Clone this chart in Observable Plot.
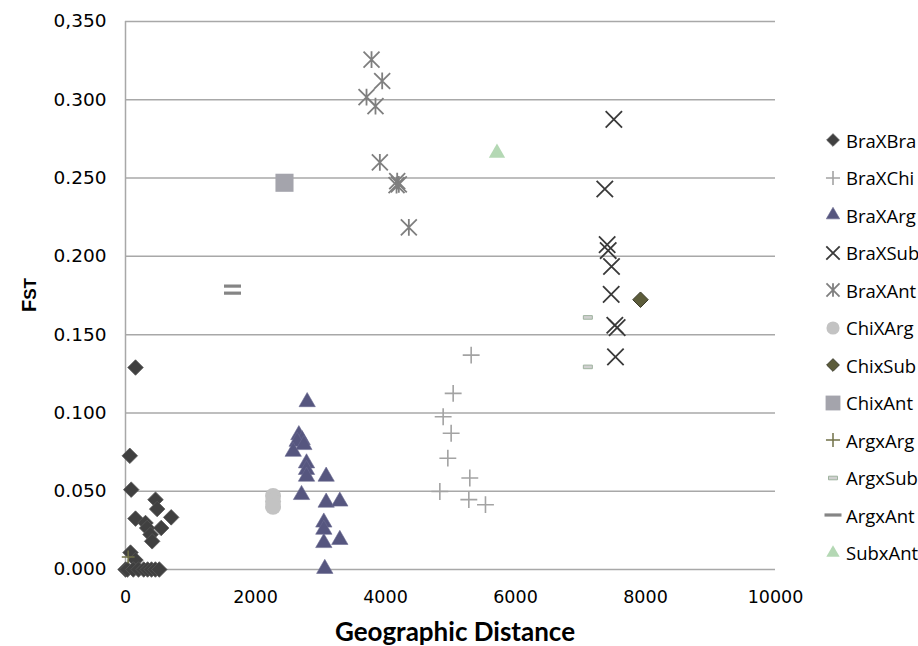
<!DOCTYPE html>
<html>
<head>
<meta charset="utf-8">
<script src="https://cdn.jsdelivr.net/npm/d3@7"></script>
<script src="https://cdn.jsdelivr.net/npm/@observablehq/plot@0.6"></script>
<style>
  html, body { margin: 0; padding: 0; background: #fff; }
  #wrap { position: relative; width: 918px; height: 646px; overflow: hidden; }
  #legend { position: absolute; left: 824px; top: 0; font-family: "Open Sans", sans-serif; font-size: 18.5px; color: #000; }
  .row { position: absolute; left: 0; height: 24px; display: flex; align-items: center; white-space: nowrap; }
  .row svg { width: 18px; height: 18px; margin-right: 4px; overflow: visible; }
</style>
</head>
<body>
<div id="wrap"></div>
<script>
// ---- data (x = geographic distance, y = FST) ----
const xTicks = [0, 2000, 4000, 6000, 8000, 10000];
const yTicks = [0, 0.05, 0.1, 0.15, 0.2, 0.25, 0.3, 0.35];
const yTickLabels = ["0.000", "0.050", "0.100", "0.150", "0.200", "0.250", "0.300", "0,350"];

const braXBra = [[154,0.129],[66,0.0726],[88,0.051],[462,0.0446],[487,0.0386],[703,0.0333],[154,0.0325],[308,0.0297],[333,0.0265],[549,0.0265],[385,0.0223],[410,0.018],[77,0.0108],[154,0.006],[0,0],[30,0],[120,0],[200,0],[280,0],[340,0],[400,0],[460,0],[520,0]];
const braXChi = [[5318,0.1369],[5041,0.1125],[4887,0.0976],[5010,0.087],[4959,0.0711],[5297,0.0584],[4836,0.0498],[5282,0.0446],[5538,0.0414]];
const braXArg = [[2795,0.107],[2667,0.0859],[2718,0.0827],[2641,0.0817],[2744,0.0796],[2580,0.0753],[2785,0.0679],[2785,0.0637],[2785,0.0594],[3087,0.0594],[2708,0.0477],[3087,0.0428],[3297,0.0435],[3051,0.0301],[3051,0.0255],[3051,0.017],[3297,0.019],[3066,0.0005]];
const braXSub = [[7513,0.2875],[7374,0.243],[7410,0.2075],[7426,0.2037],[7477,0.1935],[7472,0.1757],[7528,0.156],[7564,0.1545],[7538,0.1358]];
const braXAnt = [[3785,0.3257],[3949,0.312],[3708,0.3017],[3846,0.296],[3913,0.260],[4180,0.248],[4205,0.246],[4170,0.2455],[4359,0.2185]];
const chiXArg = [[2270,0.047],[2270,0.0435],[2270,0.040]];
const chixSub = [[7923,0.1723]];
const chixAnt = [[2446,0.247]];
const argxArg = [[41,0.008]];
const argxSub = [[7113,0.161],[7113,0.1294]];
const argxAnt = [[1646,0.181],[1646,0.1765]];
const subxAnt = [[5715,0.266]];

const seriesNames = ["BraXBra","BraXChi","BraXArg","BraXSub","BraXAnt","ChiXArg","ChixSub","ChixAnt","ArgxArg","ArgxSub","ArgxAnt","SubxAnt"];

// ---- custom marker shapes ----
const asterisk = {draw(ctx, size) {
  const r = Math.sqrt(size) * 0.6;
  ctx.moveTo(-r, -r); ctx.lineTo(r, r);
  ctx.moveTo(-r, r); ctx.lineTo(r, -r);
  ctx.moveTo(0, -r * 1.05); ctx.lineTo(0, r * 1.05);
}};
const smallDash = {draw(ctx) { ctx.rect(-4.5, -1.8, 9, 3.6); }};
const longDash = {draw(ctx) { ctx.rect(-8.5, -1.6, 17, 3.2); }};

const styles = [
  {data: braXBra, symbol: "diamond2", r: 7, fill: "#404040", stroke: "#555", strokeWidth: 0.8},
  {data: braXChi, symbol: "plus", r: 5.5, fill: "none", stroke: "#a3a3a3", strokeWidth: 1.6},
  {data: braXArg, symbol: "triangle2", r: 7.8, fill: "#56567f", stroke: "#6a6a90", strokeWidth: 0.6},
  {data: braXSub, symbol: "times", r: 7.5, fill: "none", stroke: "#3a3a3a", strokeWidth: 1.8},
  {data: braXAnt, symbol: asterisk, r: 7.5, fill: "none", stroke: "#7f7f7f", strokeWidth: 1.8},
  {data: chiXArg, symbol: "circle", r: 8, fill: "#c3c3c3", stroke: "none", strokeWidth: 0},
  {data: chixSub, symbol: "diamond2", r: 7, fill: "#5c5c3a", stroke: "#3a3a2a", strokeWidth: 1},
  {data: chixAnt, symbol: "square", r: 10.2, fill: "#a4a4ac", stroke: "none", strokeWidth: 0},
  {data: argxArg, symbol: "plus", r: 4.2, fill: "none", stroke: "#727248", strokeWidth: 1.5},
  {data: argxSub, symbol: smallDash, r: 5, fill: "#d0d0d0", stroke: "#9fb39f", strokeWidth: 1},
  {data: argxAnt, symbol: longDash, r: 5, fill: "#858585", stroke: "none", strokeWidth: 0},
  {data: subxAnt, symbol: "triangle2", r: 7.8, fill: "#b4d8b4", stroke: "none", strokeWidth: 0}
];

const gridColor = "#a8a8a8";

const chart = Plot.plot({
  width: 918,
  height: 646,
  marginLeft: 125,
  marginRight: 143,
  marginTop: 21,
  marginBottom: 77,
  style: {fontFamily: "DejaVu Sans, sans-serif", fontSize: "16px", color: "#000", background: "#fff"},
  x: {domain: [0, 10000]},
  y: {domain: [0, 0.35]},
  marks: [
    Plot.gridY(yTicks, {stroke: gridColor, strokeOpacity: 1, strokeWidth: 1.5}),
    Plot.ruleX([0], {stroke: gridColor, strokeWidth: 1.5}),
    Plot.axisY(yTicks, {tickSize: 0, tickPadding: 19, fontSize: 18.5, tickFormat: (d) => yTickLabels[yTicks.indexOf(d)], label: null}),
    Plot.axisX(xTicks, {tickSize: 0, tickPadding: 21, fontSize: 17.5, tickFormat: d => String(d), label: null}),
    ...styles.map(s => Plot.dot(s.data, {
      x: d => d[0], y: d => d[1], symbol: s.symbol, r: s.r,
      fill: s.fill, stroke: s.stroke, strokeWidth: s.strokeWidth
    }))
  ]
});

const wrap = document.getElementById("wrap");
wrap.appendChild(chart);

// axis titles
const svg = d3.select(chart);
const yt = svg.append("text")
  .attr("transform", "translate(36,295) rotate(-90)")
  .attr("text-anchor", "middle")
  .attr("font-family", "Liberation Sans, Arial, sans-serif")
  .attr("font-weight", "bold")
  .attr("fill", "#000");
yt.append("tspan").attr("font-size", 20).text("F");
yt.append("tspan").attr("font-size", 17).text("ST");

svg.append("text")
  .attr("x", 455).attr("y", 641)
  .attr("text-anchor", "middle")
  .attr("font-family", "Lato, sans-serif")
  .attr("font-weight", "bold")
  .attr("font-size", 26)
  .attr("fill", "#000")
  .text("Geographic Distance");

// legend
const legend = document.createElement("div");
legend.id = "legend";
wrap.appendChild(legend);
styles.forEach((s, i) => {
  const row = document.createElement("div");
  row.className = "row";
  row.style.top = (140 + i * 37.5 - 12) + "px";
  const ms = d3.create("svg").attr("viewBox", "-9 -9 18 18");
  const sym = typeof s.symbol === "string" ? {
    diamond2: d3.symbolDiamond2, plus: d3.symbolPlus, triangle2: d3.symbolTriangle2,
    times: d3.symbolTimes, circle: d3.symbolCircle, square: d3.symbolSquare
  }[s.symbol] : s.symbol;
  const rr = s.symbol === "plus" ? 4.6 : s.r * 0.82;
  ms.append("path")
    .attr("d", d3.symbol(sym, Math.PI * rr * rr)())
    .attr("fill", s.fill).attr("stroke", s.stroke).attr("stroke-width", s.strokeWidth);
  row.appendChild(ms.node());
  const t = document.createElement("span");
  t.textContent = seriesNames[i];
  row.appendChild(t);
  legend.appendChild(row);
});
</script>
</body>
</html>
